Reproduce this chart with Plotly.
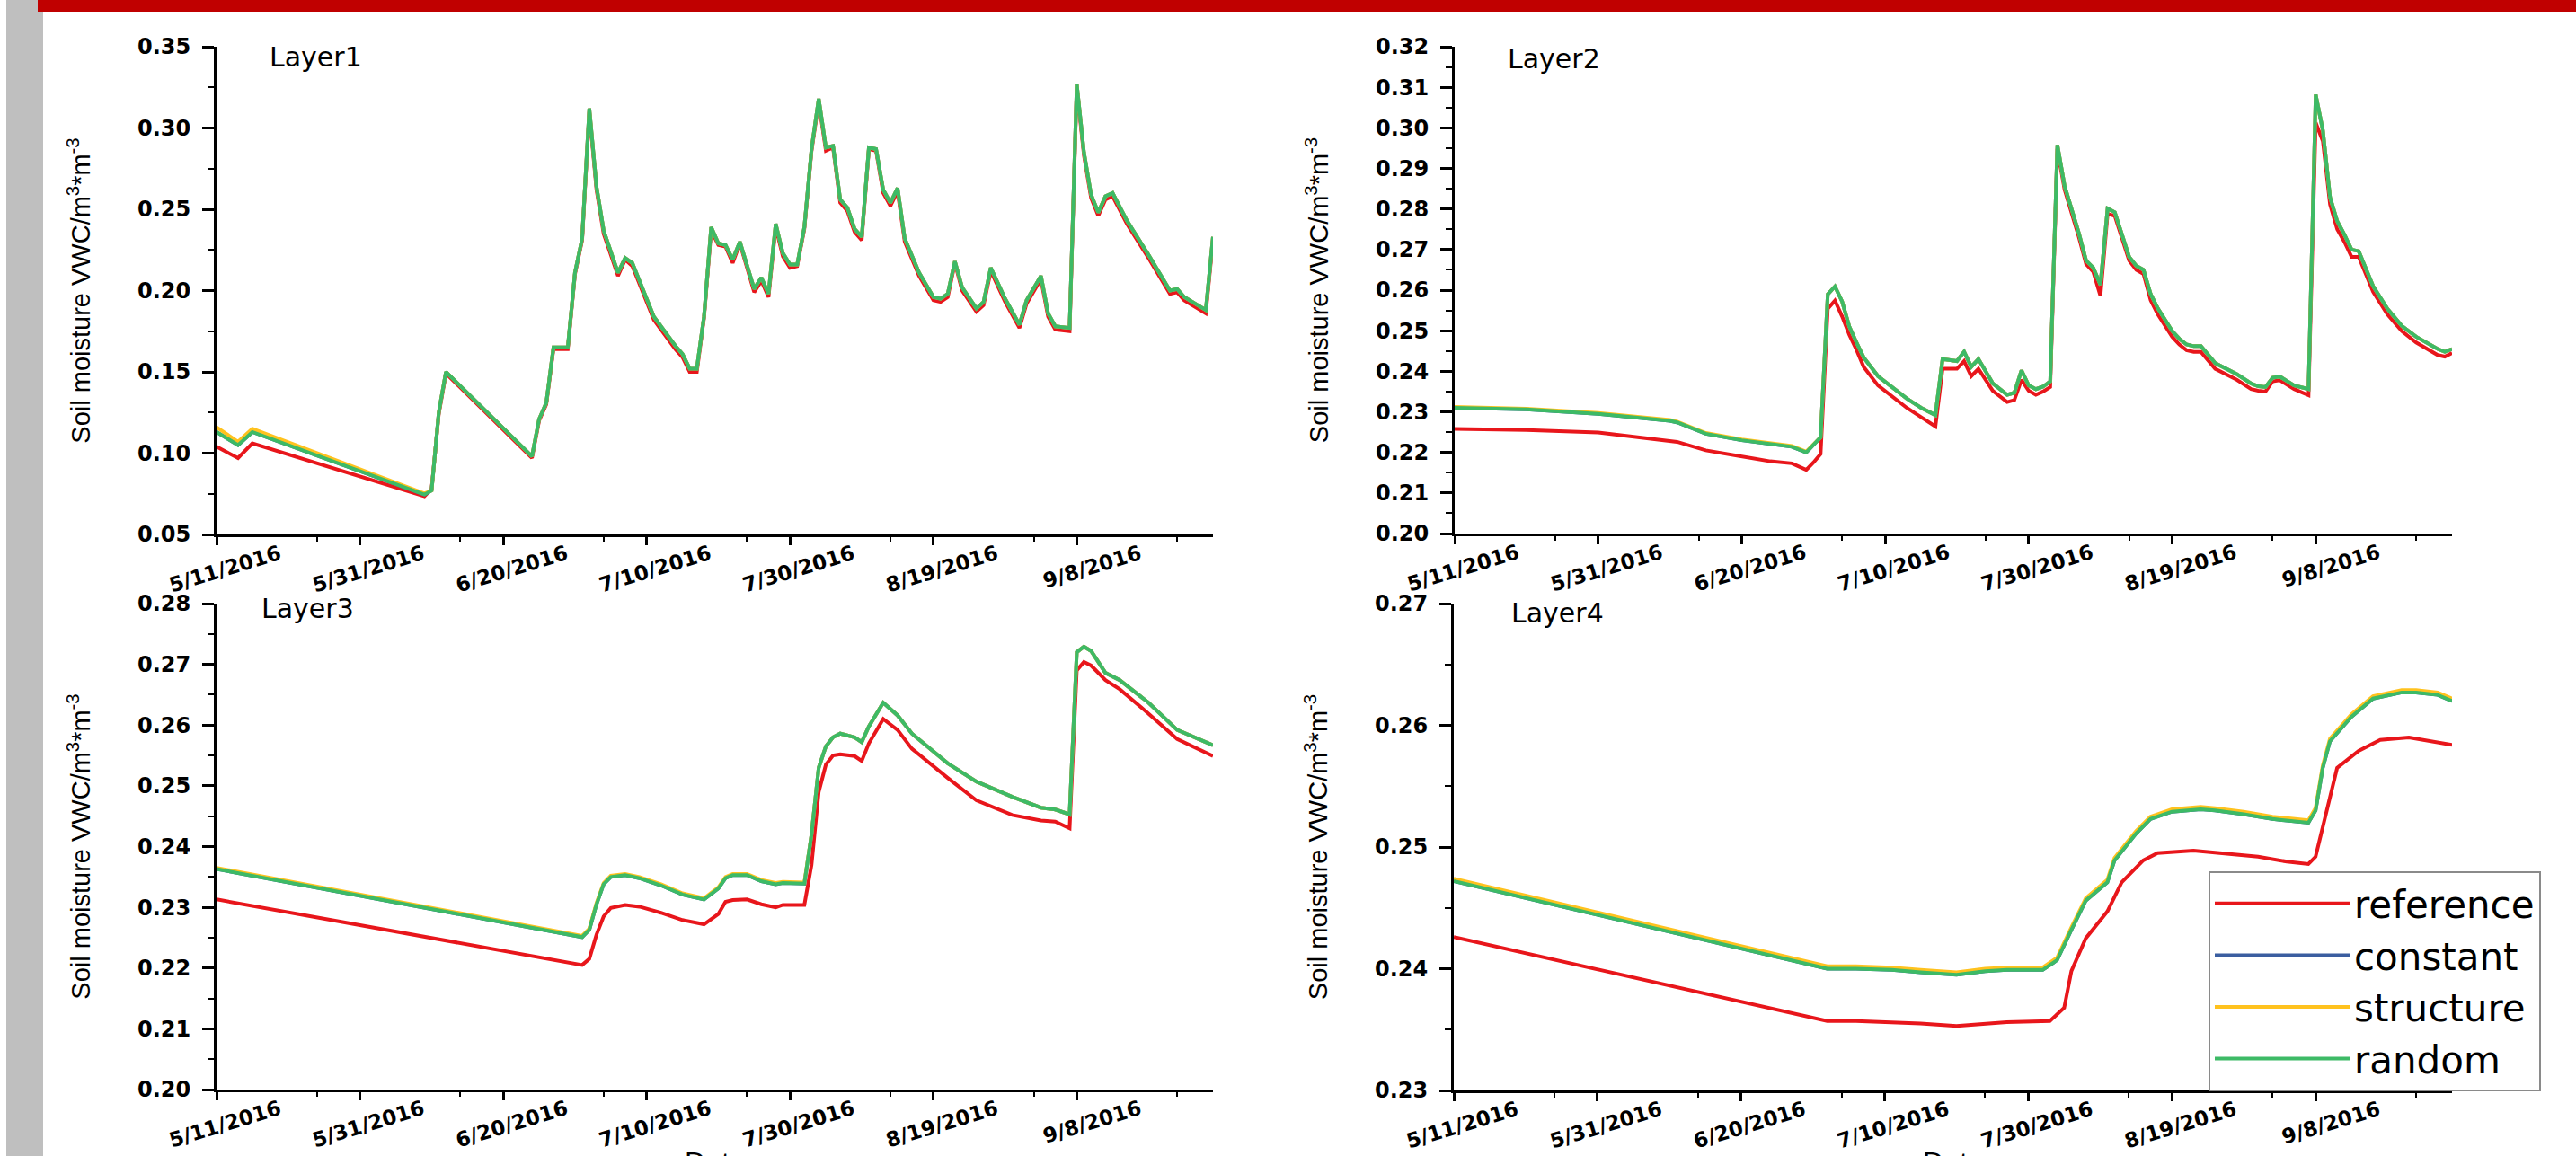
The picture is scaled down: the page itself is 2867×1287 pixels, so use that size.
import pandas as pd
import plotly.graph_objects as go

W, H = 2867, 1287
START = pd.Timestamp("2016-05-11")

# ---------------- data (days after 5/11/2016, soil moisture VWC) ----------------
# Layer 1
L1_days = [0, 3, 5, 29, 30, 31, 32, 44, 45, 46, 47, 49, 50, 51, 52, 53, 54, 56, 57, 58,
           61, 64, 65, 66, 67, 68, 69, 70, 71, 72, 73, 75, 76, 77, 78, 79, 80, 81, 82, 83,
           84, 85, 86, 87, 88, 89, 90, 91, 92, 93, 94, 95, 96, 98, 100, 101, 102, 103, 104, 106,
           107, 108, 110, 112, 113, 115, 116, 117, 119, 120, 121, 122, 123, 124, 125, 127, 130, 132, 133, 134,
           135, 138, 139]
L1_random = [0.113, 0.105, 0.113, 0.0745, 0.077, 0.125, 0.150, 0.098, 0.121, 0.131, 0.165, 0.165, 0.211, 0.232, 0.312, 0.264, 0.237, 0.211, 0.220, 0.217,
             0.184, 0.166, 0.161, 0.152, 0.152, 0.184, 0.239, 0.229, 0.228, 0.219, 0.230, 0.201, 0.208, 0.198, 0.241, 0.223, 0.216, 0.216, 0.239, 0.287,
             0.318, 0.288, 0.289, 0.256, 0.251, 0.238, 0.233, 0.288, 0.287, 0.262, 0.254, 0.263, 0.232, 0.211, 0.196, 0.195, 0.198, 0.218, 0.202, 0.189,
             0.193, 0.214, 0.195, 0.179, 0.194, 0.209, 0.186, 0.178, 0.177, 0.327, 0.285, 0.259, 0.248, 0.258, 0.260, 0.243, 0.222, 0.207, 0.200, 0.201,
             0.196, 0.188, 0.233]
L1_reference = [0.104, 0.097, 0.106, 0.0735, 0.078, 0.124, 0.149, 0.097, 0.120, 0.130, 0.164, 0.164, 0.210, 0.231, 0.310, 0.262, 0.235, 0.209, 0.219, 0.215,
                0.182, 0.164, 0.159, 0.150, 0.150, 0.183, 0.237, 0.228, 0.227, 0.217, 0.229, 0.199, 0.206, 0.196, 0.239, 0.221, 0.214, 0.215, 0.238, 0.286,
                0.316, 0.286, 0.288, 0.254, 0.249, 0.236, 0.231, 0.287, 0.286, 0.260, 0.252, 0.261, 0.230, 0.209, 0.194, 0.193, 0.196, 0.217, 0.200, 0.187,
                0.191, 0.212, 0.193, 0.177, 0.192, 0.207, 0.184, 0.176, 0.175, 0.325, 0.283, 0.257, 0.246, 0.256, 0.258, 0.241, 0.220, 0.205, 0.198, 0.199,
                0.194, 0.186, 0.231]
L1_structure = [0.116, 0.107, 0.115, 0.0752] + L1_random[4:]
L1_constant = list(L1_random)

# Layer 2
L2_days = [0, 10, 20, 30, 31, 35, 40, 44, 47, 49, 50, 51, 52, 53, 54, 55, 56, 57, 59, 63,
           65, 67, 68, 69, 70, 71, 72, 73, 75, 77, 78, 79, 80, 81, 82, 83, 84, 85, 86, 87,
           88, 89, 90, 91, 92, 94, 95, 96, 97, 98, 100, 101, 102, 103, 104, 106, 109, 111, 112, 113,
           114, 115, 117, 119, 120, 121, 122, 123, 124, 125, 126, 128, 130, 132, 134, 137, 138, 139]
L2_random = [0.2310, 0.2306, 0.2295, 0.2278, 0.2274, 0.2246, 0.2230, 0.2221, 0.2214, 0.2200, 0.2218, 0.2237, 0.2590, 0.2609, 0.2572, 0.2510, 0.2471, 0.2434, 0.2388, 0.2333,
             0.2310, 0.2292, 0.2430, 0.2428, 0.2425, 0.2448, 0.2411, 0.2430, 0.2370, 0.2342, 0.2347, 0.2402, 0.2365, 0.2356, 0.2362, 0.2375, 0.2958, 0.2857, 0.2800, 0.2740,
             0.2673, 0.2655, 0.2613, 0.2801, 0.2792, 0.2682, 0.2660, 0.2650, 0.2590, 0.2555, 0.2499, 0.2480, 0.2466, 0.2462, 0.2462, 0.2420, 0.2393, 0.2370, 0.2363, 0.2361,
             0.2384, 0.2387, 0.2365, 0.2356, 0.3082, 0.2994, 0.2829, 0.2770, 0.2737, 0.2700, 0.2696, 0.2610, 0.2554, 0.2512, 0.2485, 0.2455, 0.2448, 0.2455]
L2_reference = [0.2258, 0.2255, 0.2249, 0.2230, 0.2226, 0.2205, 0.2189, 0.2178, 0.2173, 0.2157, 0.2175, 0.2196, 0.2554, 0.2574, 0.2535, 0.2490, 0.2453, 0.2411, 0.2365, 0.2310,
                0.2287, 0.2264, 0.2406, 0.2406, 0.2406, 0.2425, 0.2388, 0.2406, 0.2352, 0.2324, 0.2329, 0.2379, 0.2352, 0.2342, 0.2350, 0.2361, 0.2948, 0.2848, 0.2790, 0.2730,
                0.2664, 0.2645, 0.2586, 0.2788, 0.2783, 0.2673, 0.2650, 0.2640, 0.2575, 0.2540, 0.2485, 0.2466, 0.2452, 0.2448, 0.2448, 0.2406, 0.2379, 0.2356, 0.2352, 0.2350,
                0.2375, 0.2378, 0.2356, 0.2341, 0.3013, 0.2967, 0.2811, 0.2750, 0.2719, 0.2682, 0.2682, 0.2596, 0.2540, 0.2499, 0.2471, 0.2440, 0.2436, 0.2445]
L2_structure = [0.2312, 0.2308, 0.2297, 0.2280, 0.2276, 0.2248, 0.2232, 0.2223, 0.2216, 0.2202, 0.2220] + L2_random[11:]
L2_constant = list(L2_random)

# Layer 3
L3_days = [0, 51, 52, 53, 54, 55, 57, 59, 62, 65, 68, 70, 71, 72, 74, 76, 78, 79, 82, 83,
           84, 85, 86, 87, 89, 90, 91, 93, 95, 97, 102, 106, 111, 115, 117, 119, 120, 121, 122, 124,
           126, 130, 134, 139]
L3_random = [0.2363, 0.2251, 0.2263, 0.2305, 0.2338, 0.2350, 0.2353, 0.2348, 0.2336, 0.2321, 0.2313, 0.2331, 0.2348, 0.2353, 0.2353, 0.2343, 0.2338, 0.2340, 0.2339, 0.2420,
             0.2530, 0.2565, 0.2580, 0.2586, 0.2580, 0.2572, 0.2598, 0.2637, 0.2616, 0.2586, 0.2537, 0.2507, 0.2482, 0.2464, 0.2461, 0.2453, 0.2720, 0.2729, 0.2722, 0.2686,
             0.2674, 0.2637, 0.2592, 0.2567]
L3_reference = [0.2313, 0.2205, 0.2215, 0.2255, 0.2285, 0.2299, 0.2304, 0.2301, 0.2291, 0.2279, 0.2272, 0.2289, 0.2309, 0.2312, 0.2313, 0.2305, 0.2300, 0.2304, 0.2304, 0.2370,
                0.2490, 0.2535, 0.2550, 0.2552, 0.2549, 0.2541, 0.2570, 0.2610, 0.2592, 0.2561, 0.2513, 0.2476, 0.2452, 0.2443, 0.2441, 0.2430, 0.2690, 0.2704, 0.2698, 0.2674,
                0.2659, 0.2619, 0.2577, 0.2549]
L3_structure = [0.2365, 0.2253, 0.2265, 0.2307, 0.2340, 0.2352, 0.2355, 0.2350, 0.2338, 0.2323, 0.2315, 0.2333, 0.2350, 0.2355, 0.2355, 0.2345, 0.2340, 0.2342, 0.2341] + L3_random[19:]
L3_constant = list(L3_random)

# Layer 4
L4_days = [0, 52, 56, 61, 65, 70, 74, 77, 82, 84, 86, 88, 91, 92, 95, 97, 100, 104, 106, 110,
           114, 119, 120, 121, 122, 125, 128, 132, 134, 137, 139]
L4_random = [0.2472, 0.2400, 0.2400, 0.2399, 0.2397, 0.2395, 0.2398, 0.2399, 0.2399, 0.2407, 0.2432, 0.2456, 0.2471, 0.2489, 0.2511, 0.2523, 0.2529, 0.2531, 0.2530, 0.2527,
             0.2523, 0.2520, 0.2530, 0.2565, 0.2587, 0.2607, 0.2622, 0.2627, 0.2627, 0.2625, 0.2620]
L4_structure = [0.2474, 0.2402, 0.2402, 0.2401, 0.2399, 0.2397, 0.2400, 0.2401, 0.2401, 0.2409, 0.2434, 0.2458, 0.2473, 0.2491, 0.2513, 0.2525, 0.2531, 0.2533, 0.2532, 0.2529,
                0.2525, 0.2522, 0.2532, 0.2567, 0.2589, 0.2609, 0.2624, 0.2629, 0.2629, 0.2627, 0.2622]
L4_constant = list(L4_random)
L4_ref_days = [0, 52, 56, 61, 65, 70, 74, 77, 83, 85, 86, 88, 91, 93, 96, 98, 103, 107, 112, 116,
               119, 120, 122, 123, 126, 129, 133, 136, 139]
L4_reference = [0.2426, 0.2357, 0.2357, 0.2356, 0.2355, 0.2353, 0.2355, 0.2356, 0.2357, 0.2368, 0.2398, 0.2425, 0.2447, 0.2471, 0.2489, 0.2495, 0.2497, 0.2495, 0.2492, 0.2488,
                0.2486, 0.2492, 0.2541, 0.2565, 0.2579, 0.2588, 0.2590, 0.2587, 0.2584]

series_names = ["reference", "constant", "structure", "random"]
series_colors = ["#E8161B", "#3B5EA0", "#FFC21E", "#3DBA66"]

x_tick_dates = ["2016-05-11", "2016-05-31", "2016-06-20", "2016-07-10", "2016-07-30", "2016-08-19", "2016-09-08"]
x_tick_text = ["5/11/2016", "5/31/2016", "6/20/2016", "7/10/2016", "7/30/2016", "8/19/2016", "9/8/2016"]
x_minor_dates = ["2016-05-25", "2016-06-14", "2016-07-04", "2016-07-24", "2016-08-13", "2016-09-02", "2016-09-22"]
x_range = ["2016-05-11", "2016-09-27"]

y_title = "Soil moisture VWC/m<sup>3</sup>*m<sup>-3</sup>"
x_title = "Date"


def to_dates(days):
    return [START + pd.Timedelta(days=d) for d in days]


panels = [
    dict(label="Layer1", ref_days=L1_days, ref=L1_reference, sim_days=L1_days,
         sims=[L1_constant, L1_structure, L1_random], yrange=[0.05, 0.35], dtick=0.05, fmt=".2f",
         box=(241, 1350, 52, 595), lab=(298, 52), xtitle=False),
    dict(label="Layer2", ref_days=L2_days, ref=L2_reference, sim_days=L2_days,
         sims=[L2_constant, L2_structure, L2_random], yrange=[0.20, 0.32], dtick=0.01, fmt=".2f",
         box=(1619, 2729, 52, 594), lab=(1676, 54), xtitle=False),
    dict(label="Layer3", ref_days=L3_days, ref=L3_reference, sim_days=L3_days,
         sims=[L3_constant, L3_structure, L3_random], yrange=[0.20, 0.28], dtick=0.01, fmt=".2f",
         box=(241, 1350, 672, 1213), lab=(289, 666), xtitle=True),
    dict(label="Layer4", ref_days=L4_ref_days, ref=L4_reference, sim_days=L4_days,
         sims=[L4_constant, L4_structure, L4_random], yrange=[0.23, 0.27], dtick=0.01, fmt=".2f",
         box=(1618, 2729, 672, 1214), lab=(1680, 671), xtitle=True),
]

fig = go.Figure()
layout = {}
annotations = []
for i, p in enumerate(panels):
    n = "" if i == 0 else str(i + 1)
    xa, ya = "x" + n, "y" + n
    show = (i == 3)
    # reference first, simulations on top
    fig.add_trace(go.Scatter(x=to_dates(p["ref_days"]), y=p["ref"], mode="lines",
                             name=series_names[0], legendrank=1,
                             line=dict(color=series_colors[0], width=4),
                             xaxis=xa, yaxis=ya, showlegend=show))
    for k, vals in enumerate(p["sims"]):
        fig.add_trace(go.Scatter(x=to_dates(p["sim_days"]), y=vals, mode="lines",
                                 name=series_names[k + 1], legendrank=k + 2,
                                 line=dict(color=series_colors[k + 1], width=4),
                                 xaxis=xa, yaxis=ya, showlegend=show))
    left, right, top, bottom = p["box"]
    layout["xaxis" + n] = dict(
        domain=[left / W, right / W], anchor=ya, range=x_range, type="date",
        showline=True, linewidth=3, linecolor="black", showgrid=False, zeroline=False,
        ticks="outside", ticklen=9, tickwidth=2.5, tickcolor="black",
        tickmode="array", tickvals=x_tick_dates, ticktext=x_tick_text,
        tickangle=-17, ticklabelshift=70, ticklabelstandoff=-12,
        tickfont=dict(family="DejaVu Sans", size=23, color="black", weight="bold"),
        minor=dict(tickmode="array", tickvals=x_minor_dates, ticks="outside", ticklen=5,
                   tickwidth=2, tickcolor="black", showgrid=False),
        automargin=False,
    )
    layout["yaxis" + n] = dict(
        domain=[1 - bottom / H, 1 - top / H], anchor=xa, range=p["yrange"],
        showline=True, linewidth=3, linecolor="black", showgrid=False, zeroline=False,
        ticks="outside", ticklen=13, tickwidth=2.5, tickcolor="black",
        dtick=p["dtick"], tick0=p["yrange"][0], tickformat=p["fmt"], ticklabelstandoff=8,
        tickfont=dict(family="DejaVu Sans", size=24, color="black", weight="bold"),
        minor=dict(dtick=p["dtick"] / 2, ticks="outside", ticklen=7, tickwidth=2,
                   tickcolor="black", showgrid=False),
        title=dict(text=y_title, standoff=44,
                   font=dict(family="Liberation Sans", size=29, color="black")),
        automargin=False,
    )
    lx, ly = p["lab"]
    annotations.append(dict(text=p["label"], xref="paper", yref="paper",
                            x=lx / W, y=1 - (ly - 8) / H, xanchor="left", yanchor="top",
                            showarrow=False,
                            font=dict(family="DejaVu Sans", size=30, color="black")))
    if p["xtitle"]:
        # x-axis title sits at the bottom edge of the page (cut off there, as in the original)
        annotations.append(dict(text=x_title, xref="paper", yref="paper",
                                x=(left + right) / 2 / W, y=1 - 1274 / H,
                                xanchor="center", yanchor="top", showarrow=False,
                                font=dict(family="Liberation Sans", size=32, color="black")))

shapes = [
    dict(type="rect", xref="paper", yref="paper", x0=7 / W, x1=48 / W, y0=0, y1=1,
         fillcolor="#BFBFBF", line=dict(width=0), layer="below"),
    dict(type="rect", xref="paper", yref="paper", x0=42 / W, x1=1, y0=1 - 13 / H, y1=1,
         fillcolor="#C00000", line=dict(width=0), layer="below"),
]

fig.update_layout(
    width=W, height=H, autosize=False,
    margin=dict(l=0, r=0, t=0, b=0, pad=0),
    paper_bgcolor="white", plot_bgcolor="white",
    shapes=shapes, annotations=annotations,
    legend=dict(x=2458 / W, y=1 - 970 / H, xanchor="left", yanchor="top",
                bgcolor="white", bordercolor="#8A8A8A", borderwidth=2,
                font=dict(family="DejaVu Sans", size=42, color="black"),
                itemwidth=150, traceorder="normal", tracegroupgap=0),
    showlegend=True,
    **layout,
)

fig.write_html("out.html")
